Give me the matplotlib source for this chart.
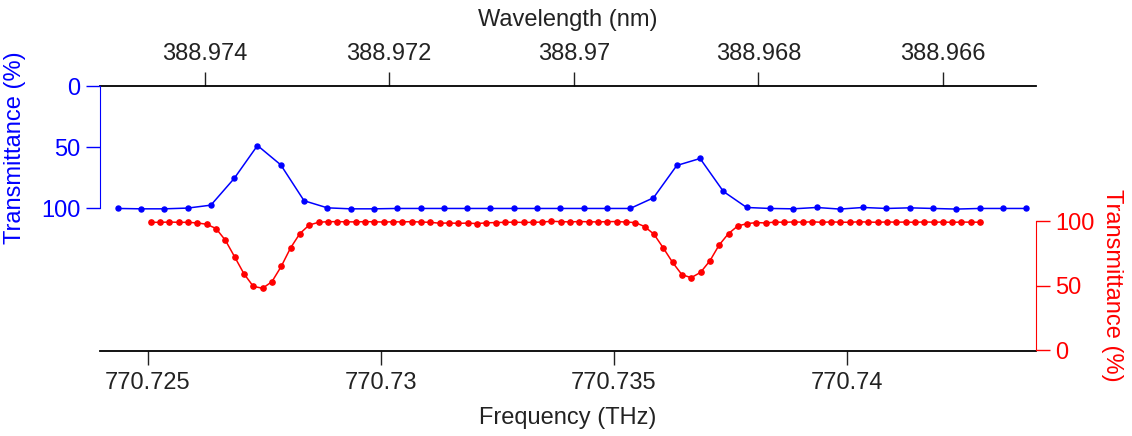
import matplotlib
matplotlib.use('Agg')
import matplotlib.pyplot as plt

C_NM_THZ = 299792.458  # speed of light in nm*THz

# blue trace: frequency (THz) and transmittance (%)
freq_blue = [770.72435, 770.72485, 770.72535, 770.72585, 770.72635, 770.72685, 770.72735, 770.72785,
             770.72835, 770.72885, 770.72935, 770.72985, 770.73035, 770.73085, 770.73135, 770.73185,
             770.73235, 770.73285, 770.73335, 770.73385, 770.73435, 770.73485, 770.73535, 770.73585,
             770.73635, 770.73685, 770.73735, 770.73785, 770.73835, 770.73885, 770.73935, 770.73985,
             770.74035, 770.74085, 770.74135, 770.74185, 770.74235, 770.74285, 770.74335, 770.74385]
trans_blue = [100.0, 100.3, 100.3, 99.7, 97.3, 75.5, 48.6, 64.4,
              93.7, 99.5, 100.3, 100.3, 100.0, 100.0, 100.0, 100.0,
              100.0, 100.0, 100.0, 100.0, 100.0, 100.0, 100.0, 91.3,
              64.9, 59.2, 86.1, 99.2, 100.0, 100.3, 99.2, 100.5,
              99.2, 100.0, 99.5, 100.0, 100.5, 100.0, 100.0, 100.0]

# red trace: frequency (THz) and transmittance (%)
freq_red = [770.72506, 770.72526, 770.72546, 770.72566, 770.72586, 770.72606, 770.72626, 770.72646, 770.72666, 770.72686,
            770.72706, 770.72726, 770.72746, 770.72766, 770.72786, 770.72806, 770.72826, 770.72846, 770.72866, 770.72886,
            770.72906, 770.72926, 770.72946, 770.72966, 770.72986, 770.73006, 770.73026, 770.73046, 770.73066, 770.73086,
            770.73106, 770.73126, 770.73146, 770.73166, 770.73186, 770.73206, 770.73226, 770.73246, 770.73266, 770.73286,
            770.73306, 770.73326, 770.73346, 770.73366, 770.73386, 770.73406, 770.73426, 770.73446, 770.73466, 770.73486,
            770.73506, 770.73526, 770.73546, 770.73566, 770.73586, 770.73606, 770.73626, 770.73646, 770.73666, 770.73686,
            770.73706, 770.73726, 770.73746, 770.73766, 770.73786, 770.73806, 770.73826, 770.73846, 770.73866, 770.73886,
            770.73906, 770.73926, 770.73946, 770.73966, 770.73986, 770.74006, 770.74026, 770.74046, 770.74066, 770.74086,
            770.74106, 770.74126, 770.74146, 770.74166, 770.74186, 770.74206, 770.74226, 770.74246, 770.74266, 770.74286]
trans_red = [99.0, 99.0, 99.2, 99.0, 99.0, 98.5, 97.5, 94.2, 85.2, 72.3,
             59.2, 49.5, 48.0, 53.1, 64.9, 79.2, 90.3, 96.9, 99.0, 99.5,
             99.5, 99.4, 99.3, 99.5, 99.4, 99.2, 99.4, 99.3, 99.5, 99.2,
             99.0, 98.3, 98.5, 98.2, 98.4, 98.0, 98.6, 98.8, 99.0, 99.1,
             98.9, 99.0, 99.2, 99.8, 99.5, 99.3, 99.6, 99.4, 99.3, 99.5,
             99.6, 99.2, 98.8, 95.7, 89.8, 79.2, 68.0, 58.5, 56.2, 60.3,
             69.2, 81.5, 90.3, 96.2, 98.0, 98.8, 98.5, 99.2, 99.0, 99.3,
             99.1, 99.4, 99.0, 99.3, 99.1, 99.0, 99.4, 99.2, 99.0, 99.3,
             99.1, 99.2, 99.0, 99.3, 99.1, 99.2, 99.0, 99.2, 99.1, 99.1]

freq_ticks = [770.725, 770.73, 770.735, 770.74]
freq_labels = ["770.725", "770.73", "770.735", "770.74"]
wl_ticks = [388.974, 388.972, 388.97, 388.968, 388.966]
wl_labels = ["388.974", "388.972", "388.97", "388.968", "388.966"]
trans_ticks = [0, 50, 100]

plt.rcParams['font.family'] = ['Liberation Sans', 'DejaVu Sans']
plt.rcParams['font.size'] = 17

BLUE = '#0000ff'
RED = '#ff0000'

fig = plt.figure(figsize=(11.32, 4.36), dpi=100)
ax = fig.add_axes([100/1132, 85/436, 936/1132, 265/436])
ax2 = ax.twinx()

ax.plot(freq_blue, trans_blue, '-o', color=BLUE, lw=1.1, ms=3.6, clip_on=False)
ax2.plot(freq_red, trans_red, '-o', color=RED, lw=1.1, ms=3.8, clip_on=False)

ax.set_xlim(770.72397, 770.74406)
ax.set_ylim(216.4, 0)
ax2.set_ylim(-0.5, 204.4)

# bottom frequency axis
ax.set_xticks(freq_ticks)
ax.set_xticklabels(freq_labels)
ax.tick_params(axis='x', length=10, width=1, pad=5, colors='#222222')

# top wavelength axis
top = ax.secondary_xaxis('top', functions=(lambda f: C_NM_THZ / f, lambda w: C_NM_THZ / w))
top.set_xticks(wl_ticks)
top.set_xticklabels(wl_labels)
top.tick_params(axis='x', length=10, width=1, pad=5, colors='#222222')
top.spines['top'].set_linewidth(1.3)

# left blue transmittance axis
ax.spines['top'].set_visible(False)
ax.spines['right'].set_visible(False)
ax.spines['left'].set_color(BLUE)
ax.spines['left'].set_bounds(0, 100)
ax.spines['bottom'].set_linewidth(1.3)
ax.set_yticks(trans_ticks)
ax.tick_params(axis='y', colors=BLUE, length=10, width=1, pad=4)

# right red transmittance axis
for s in ['top', 'bottom', 'left']:
    ax2.spines[s].set_visible(False)
ax2.spines['right'].set_color(RED)
ax2.spines['right'].set_bounds(0, 100)
ax2.set_yticks(trans_ticks)
ax2.tick_params(axis='y', colors=RED, length=10, width=1, pad=4)

fig.text(568/1132, 1 - 418/436, "Frequency (THz)", ha='center', va='center', color='#222222')
fig.text(568/1132, 1 - 20/436, "Wavelength (nm)", ha='center', va='center', color='#222222')
fig.text(15/1132, 1 - 148/436, "Transmittance (%)", ha='center', va='center', rotation=90, color=BLUE)
fig.text(1112/1132, 1 - 285/436, "Transmittance (%)", ha='center', va='center', rotation=270, color=RED)

fig.savefig("out.png", dpi=100)
